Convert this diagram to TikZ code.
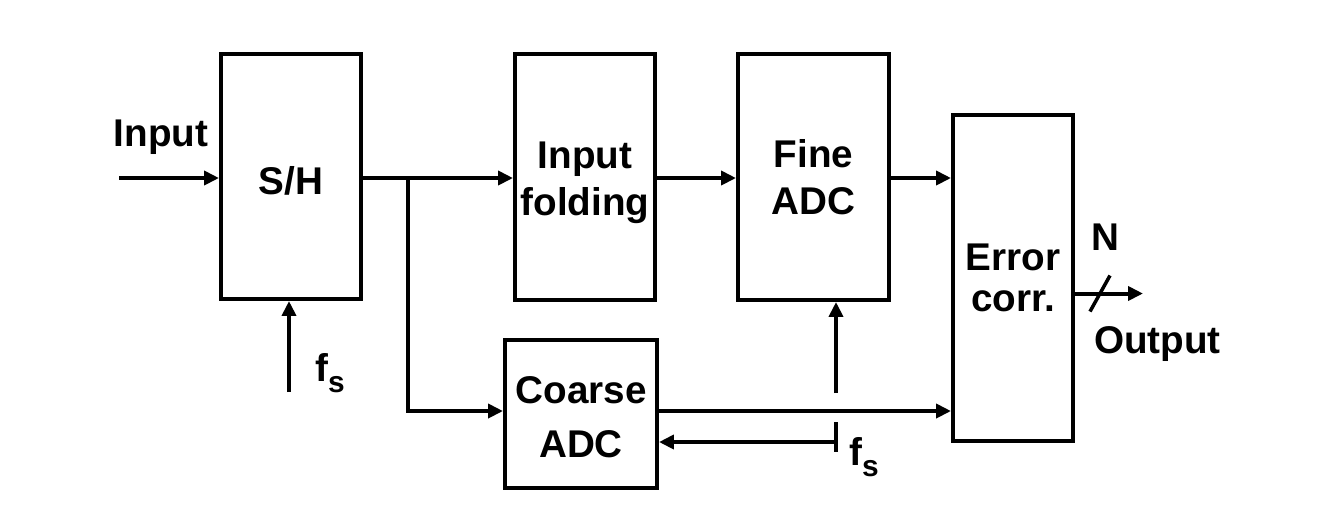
\documentclass[tikz,border=0pt]{standalone}
\usepackage{fontspec}
\setmainfont{Liberation Sans}
\usetikzlibrary{arrows.meta}
\begin{document}
\begin{tikzpicture}[x=0.02cm,y=-0.02cm,
  blk/.style={draw,line width=0.08cm,rectangle,inner sep=0pt},
  txt/.style={inner sep=0pt,align=center,font=\fontsize{22}{26}\selectfont\bfseries},
  lbl/.style={inner sep=0pt,anchor=base,font=\fontsize{22}{26}\selectfont\bfseries},
  wire/.style={line width=0.08cm},
  arr/.style={line width=0.08cm,-{Triangle[length=0.3cm,width=0.28cm]}}]
\useasboundingbox (0,0) rectangle (1328,529);
% blocks
\node[blk,minimum width=2.8cm,minimum height=4.9cm,label={[txt,yshift=-0.17cm]center:\strut S/H}] (sh) at (291,176.5) {};
\node[blk,minimum width=2.8cm,minimum height=4.92cm,label={[txt,yshift=-0.11cm]center:\strut Input\\[0.75pt]\strut folding}] (fold) at (585,177) {};
\node[blk,minimum width=3.02cm,minimum height=4.92cm,label={[txt,yshift=-0.1cm]center:\strut Fine\\[0.75pt]\strut ADC}] (fine) at (813.5,177) {};
\node[blk,minimum width=2.4cm,minimum height=6.52cm,label={[txt,yshift=-0.08cm]center:\strut Error\\[-2.7pt]\strut corr.}] (err) at (1013,278) {};
\node[blk,minimum width=3.04cm,minimum height=2.96cm,label={[txt,yshift=-0.15cm]center:\strut Coarse\\[4.6pt]\strut ADC}] (coarse) at (581,414) {};
% labels
\node[lbl] (inlbl) at (161,146.7) {Input};
\node[lbl,anchor=base west] (fs1) at (315,381) {f\raisebox{-6.3pt}{\fontsize{17}{18}\selectfont s}};
\node[lbl,anchor=base west] (fs2) at (849,465) {f\raisebox{-6.3pt}{\fontsize{17}{18}\selectfont s}};
\node[lbl] (nlbl) at (1105.5,250.7) {N};
\node[lbl] (outlbl) at (1157.5,353) {Output};
% coordinates
\coordinate (inS) at (119,178);
\coordinate (br) at (408,178);
\coordinate (lowY) at (0,411);
\coordinate (fsA) at (289,392);
\coordinate (fineUp) at (836,393);
\coordinate (tickT) at (836,422);
\coordinate (tickB) at (836,452);
\coordinate (clkY) at (0,442);
\coordinate (outE) at (1143,293.5);
\coordinate (slA) at (1090,311.5);
\coordinate (slB) at (1110,275.5);
% connectors
\draw[arr] (inS) -- (sh.west |- inS);
\draw[arr] (sh.east |- inS) -- (fold.west |- inS);
\draw[arr] (br) |- (coarse.west |- lowY);
\draw[arr] (fold.east |- inS) -- (fine.west |- inS);
\draw[arr] (fine.east |- inS) -- (err.west |- inS);
\draw[arr] (coarse.east |- lowY) -- (err.west |- lowY);
\draw[arr] (fsA) -- (sh.south -| fsA);
\draw[arr] (fineUp) -- (fine.south -| fineUp);
\draw[wire] (tickT) -- (tickB);
\draw[arr] (tickT |- clkY) -- (coarse.east |- clkY);
\draw[arr] (err.east |- outE) -- (outE);
\draw[line width=0.07cm] (slA) -- (slB);
\end{tikzpicture}
\end{document}
